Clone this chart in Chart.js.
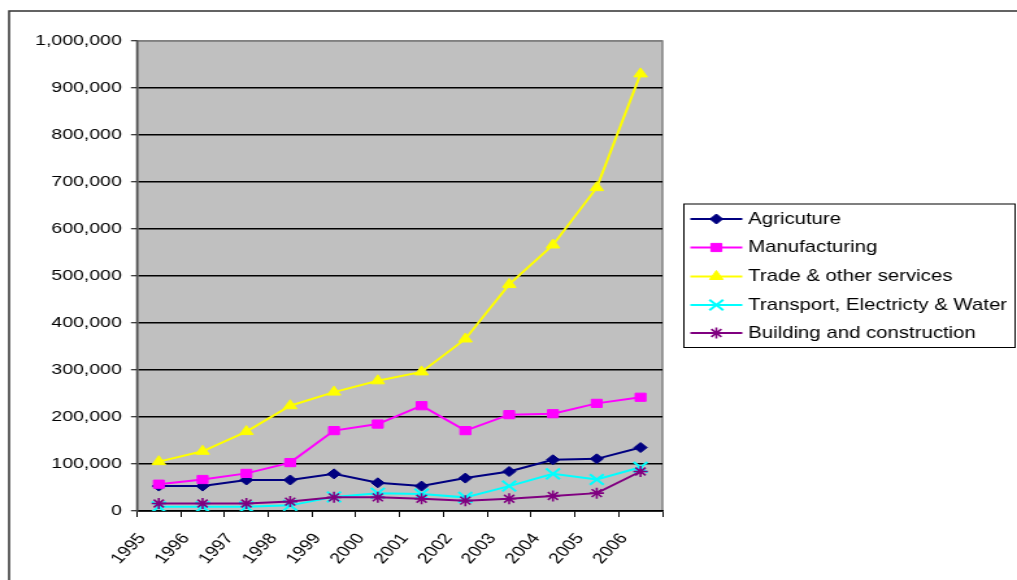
<!DOCTYPE html>
<html>
<head>
<meta charset="utf-8">
<title>Output by sector, 1995-2006</title>
<script src="https://cdn.jsdelivr.net/npm/chart.js@4/dist/chart.umd.min.js"></script>
<style>
    html, body { margin: 0; padding: 0; background: #fff; overflow: hidden; }
    /* chart is drawn narrow then stretched sideways, like the original sheet */
    #wrap { width: 783px; height: 580px; transform: scaleX(1.2989); transform-origin: 0 0; }
</style>
</head>
<body>
<div id="wrap"><canvas id="sectorChart" width="783" height="580"></canvas></div>
<script>
// Données par secteur
const years = ['1995', '1996', '1997', '1998', '1999', '2000', '2001', '2002', '2003', '2004', '2005', '2006'];
const agriculture   = [53000, 53000, 66000, 66000, 79000, 60000, 53000, 70000, 84000, 109000, 111000, 135000];
const manufacturing = [57000, 67000, 80000, 103000, 171000, 185000, 224000, 171000, 205000, 207000, 229000, 242000];
const trade         = [105000, 127000, 169000, 224000, 253000, 277000, 296000, 366000, 482000, 566000, 688000, 930000];
const transport     = [9000, 9000, 9000, 12000, 30000, 38000, 36000, 29000, 53000, 79000, 67000, 93000];
const building      = [16000, 16000, 16000, 20000, 29000, 29000, 26000, 22000, 26000, 32000, 38000, 84000];

const seriesNames = ['Agricuture', 'Manufacturing', 'Trade & other services', 'Transport, Electricty & Water', 'Building and construction'];
const yTicks = { min: 0, max: 1000000, step: 100000 };

// points sit in the middle of each year slot, labels on the slot edges
function toPoints(values) {
    return values.map((v, i) => ({ x: i + 0.5, y: v }));
}

function makeDataset(label, values, color, style, radius, borderWidth, order) {
    return {
        label: label,
        data: toPoints(values),
        borderColor: color,
        backgroundColor: color,
        borderWidth: 2,
        tension: 0,
        pointStyle: style,
        pointRadius: radius,
        pointHoverRadius: radius,
        pointBackgroundColor: color,
        pointBorderColor: color,
        pointBorderWidth: borderWidth,
        order: order
    };
}

// fond gris + cadre du graphique
const plotBackground = {
    id: 'plotBackground',
    beforeDraw(chart) {
        const { ctx, chartArea: a } = chart;
        ctx.save();
        ctx.fillStyle = '#C0C0C0';
        ctx.fillRect(a.left, a.top, a.right - a.left, a.bottom - a.top);
        ctx.strokeStyle = '#808080';
        ctx.lineWidth = 1.5;
        ctx.strokeRect(a.left, a.top, a.right - a.left, a.bottom - a.top);
        // outer frame of the chart object
        ctx.strokeStyle = '#303030';
        ctx.lineWidth = 1.5;
        ctx.strokeRect(7, 11, 900, 700);
        ctx.restore();
    }
};

// légende dessinée à la main, à droite
const sideLegend = {
    id: 'sideLegend',
    afterDraw(chart) {
        const ctx = chart.ctx;
        const box = { left: 526.5, top: 204, right: 781.5, bottom: 347.5 };
        ctx.save();
        ctx.fillStyle = '#fff';
        ctx.fillRect(box.left, box.top, box.right - box.left, box.bottom - box.top);
        ctx.strokeStyle = '#000';
        ctx.lineWidth = 1;
        ctx.strokeRect(box.left, box.top, box.right - box.left, box.bottom - box.top);

        const rowY = [219, 247.5, 276.5, 305, 333];
        chart.data.datasets.forEach((ds, i) => {
            const y = rowY[i];
            ctx.strokeStyle = ds.borderColor;
            ctx.lineWidth = 2;
            ctx.beginPath();
            ctx.moveTo(531.5, y);
            ctx.lineTo(571.5, y);
            ctx.stroke();
            ctx.fillStyle = ds.pointBackgroundColor;
            ctx.strokeStyle = ds.pointBorderColor;
            ctx.lineWidth = ds.pointBorderWidth;
            Chart.helpers.drawPoint(ctx, {
                pointStyle: ds.pointStyle,
                radius: ds.pointRadius,
                rotation: 0,
                borderWidth: ds.pointBorderWidth
            }, 551.5, y);
            ctx.fillStyle = '#000';
            ctx.font = '15.7px "Liberation Sans", Arial, sans-serif';
            ctx.textAlign = 'left';
            ctx.textBaseline = 'middle';
            ctx.fillText(ds.label, 576, y + 0.5);
        });
        ctx.restore();
    }
};

const tickFont = { family: '"Liberation Sans", Arial, sans-serif', size: 15 };

const sectorChart = new Chart(document.getElementById('sectorChart').getContext('2d'), {
    type: 'line',
    data: {
        datasets: [
            makeDataset(seriesNames[0], agriculture,   '#000080', 'rectRot',  5,   1, 5),
            makeDataset(seriesNames[1], manufacturing, '#FF00FF', 'rect',     5.8, 1, 4),
            makeDataset(seriesNames[2], trade,         '#FFFF00', 'triangle', 6,   1, 3),
            makeDataset(seriesNames[3], transport,     '#00FFFF', 'crossRot', 7.5, 2, 2),
            makeDataset(seriesNames[4], building,      '#800080', 'star',     5.5, 1.6, 1)
        ]
    },
    options: {
        responsive: false,
        maintainAspectRatio: false,
        animation: { duration: 0 },
        layout: { padding: { left: 0, top: 41, right: 273, bottom: 0 } },
        scales: {
            x: {
                type: 'linear',
                min: 0,
                max: years.length,
                afterFit(scale) { scale.height = 69; },
                afterBuildTicks(scale) {
                    scale.ticks = [];
                    for (let i = 0; i <= years.length; i++) scale.ticks.push({ value: i });
                },
                ticks: {
                    autoSkip: false,
                    minRotation: 52,
                    maxRotation: 52,
                    padding: 13,
                    labelOffset: 4,
                    color: '#000',
                    font: tickFont,
                    callback: (v) => years[v] || ''
                },
                grid: {
                    drawOnChartArea: false,
                    drawTicks: true,
                    tickLength: 6,
                    tickColor: '#000',
                    tickWidth: 1
                },
                border: { display: true, color: '#000', width: 1.5 }
            },
            y: {
                min: yTicks.min,
                max: yTicks.max,
                afterFit(scale) { scale.width = 105.4; },
                ticks: {
                    stepSize: yTicks.step,
                    padding: 7,
                    color: '#000',
                    font: tickFont,
                    callback: (v) => v.toLocaleString('en-US')
                },
                grid: {
                    color: (c) => (c.tick && c.tick.value === yTicks.max ? '#808080' : '#000'),
                    lineWidth: 1.5,
                    tickLength: 4.6,
                    tickColor: '#000',
                    tickWidth: 1
                },
                border: { display: true, color: '#505050', width: 1.5 }
            }
        },
        plugins: {
            legend: { display: false },
            tooltip: { enabled: false }
        }
    },
    plugins: [plotBackground, sideLegend]
});
</script>
</body>
</html>
